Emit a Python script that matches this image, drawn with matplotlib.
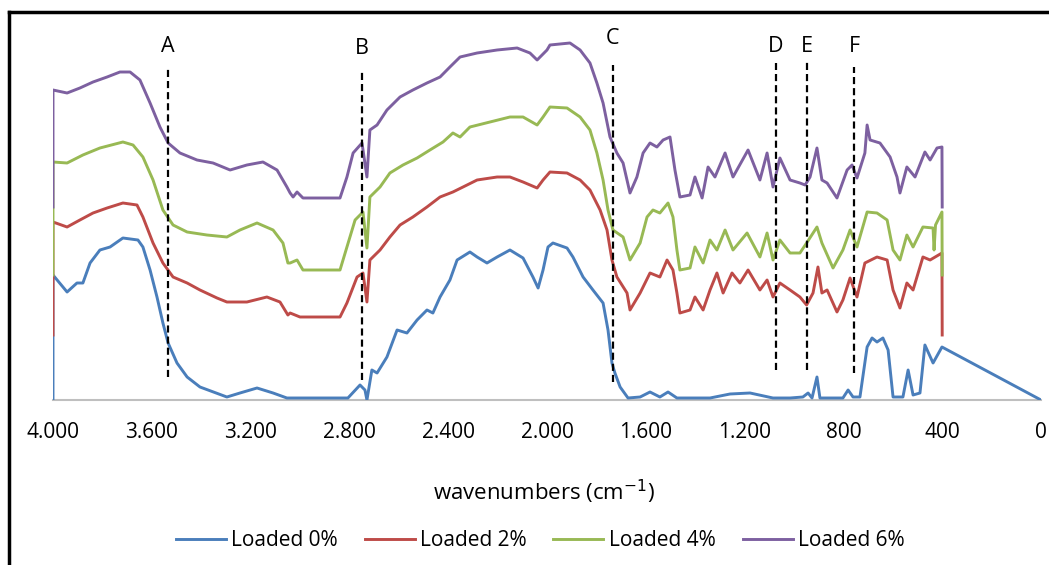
import matplotlib
matplotlib.use('Agg')
import matplotlib.pyplot as plt
from matplotlib.lines import Line2D

plt.rcParams['font.family'] = ['Open Sans', 'DejaVu Sans']

# FTIR spectra, wavenumber (cm-1) vs shifted transmittance (arbitrary units)
series_names = ['Loaded 0%', 'Loaded 2%', 'Loaded 4%', 'Loaded 6%']
colors = ['#4A7EBB', '#BE4B48', '#98B954', '#7D60A0']
baselines = [0, 65, 125, 193]
end_wn = [0, 400, 400, 400]

wn_0 = [4000, 3943, 3903, 3879, 3850, 3810, 3769, 3717, 3656, 3636, 3607, 3579, 3555, 3534,
        3498, 3457, 3405, 3296, 3243, 3174, 3109, 3053, 2806, 2757, 2737, 2729, 2709, 2688,
        2648, 2607, 2567, 2526, 2486, 2462, 2433, 2393, 2364, 2312, 2283, 2243, 2202, 2150,
        2097, 2057, 2036, 2016, 1996, 1976, 1919, 1895, 1854, 1814, 1773, 1753, 1737, 1725,
        1704, 1672, 1623, 1583, 1543, 1510, 1474, 1340, 1259, 1178, 1085, 1016, 964, 943,
        927, 907, 895, 802, 781, 761, 733, 704, 684, 664, 640, 619, 599, 559, 538, 518,
        490, 470, 437, 401]
val_0 = [125, 108, 117, 117, 137, 150, 153, 162, 160, 153, 130, 103, 77, 57,
         37, 23, 13, 3, 7, 12, 7, 2, 2, 15, 10, 0, 30, 27,
         43, 70, 67, 80, 90, 87, 103, 120, 140, 148, 143, 137, 143, 150,
         142, 123, 112, 130, 153, 157, 152, 143, 123, 110, 97, 70, 37, 27,
         13, 2, 3, 8, 3, 8, 2, 2, 6, 7, 2, 2, 3, 7,
         2, 23, 2, 2, 10, 3, 3, 53, 62, 58, 62, 50, 3, 3, 30, 5,
         7, 55, 37, 53]

wn_2 = [4000, 3943, 3891, 3838, 3781, 3717, 3660, 3636, 3595, 3555, 3514, 3457, 3405, 3336,
        3296, 3215, 3134, 3081, 3049, 3040, 3000, 2838, 2810, 2769, 2745, 2729, 2717, 2676,
        2636, 2595, 2543, 2486, 2433, 2381, 2340, 2283, 2202, 2150, 2097, 2040, 2016, 1988,
        1919, 1866, 1826, 1785, 1757, 1737, 1717, 1676, 1664, 1623, 1583, 1543, 1514, 1490,
        1474, 1462, 1421, 1401, 1368, 1340, 1312, 1287, 1251, 1219, 1186, 1138, 1109, 1085,
        1057, 1016, 976, 949, 923, 903, 887, 866, 826, 802, 773, 745, 713, 664, 623, 599,
        571, 543, 518, 478, 449, 401]
val_2 = [178, 173, 180, 187, 192, 197, 195, 183, 157, 137, 123, 117, 110, 102,
         98, 98, 103, 98, 85, 87, 83, 83, 97, 123, 127, 98, 140, 150,
         163, 175, 183, 193, 203, 208, 213, 220, 223, 223, 218, 212, 220, 228,
         227, 220, 210, 190, 170, 140, 123, 107, 90, 107, 127, 123, 140, 130,
         107, 87, 90, 103, 90, 110, 127, 107, 127, 117, 130, 110, 120, 103,
         117, 110, 103, 95, 107, 133, 107, 110, 88, 100, 122, 103, 137, 143, 140, 110,
         92, 117, 110, 143, 140, 147]

wn_4 = [4000, 3943, 3879, 3810, 3717, 3676, 3636, 3595, 3555, 3514, 3457, 3377, 3296, 3243,
        3174, 3109, 3069, 3049, 3040, 3012, 2988, 2838, 2810, 2777, 2745, 2729, 2717, 2676,
        2636, 2583, 2526, 2474, 2421, 2381, 2352, 2312, 2231, 2150, 2097, 2040, 2016, 1988,
        1919, 1866, 1826, 1798, 1773, 1753, 1733, 1692, 1664, 1623, 1595, 1571, 1543, 1510,
        1490, 1474, 1462, 1421, 1401, 1368, 1340, 1312, 1279, 1247, 1190, 1138, 1109, 1085,
        1057, 1016, 976, 949, 907, 887, 842, 802, 773, 745, 704, 664, 623, 599, 571, 543,
        518, 478, 437, 433, 427, 401]
val_4 = [238, 237, 245, 252, 258, 255, 243, 220, 190, 175, 168, 165, 163, 170,
         177, 170, 157, 137, 137, 140, 130, 130, 153, 180, 188, 152, 203, 213,
         227, 235, 242, 250, 258, 267, 263, 273, 278, 283, 283, 275, 283, 293,
         292, 283, 270, 247, 220, 190, 170, 163, 140, 157, 183, 190, 187, 197,
         183, 150, 130, 132, 153, 137, 160, 150, 170, 150, 167, 143, 167, 140,
         160, 147, 147, 157, 173, 157, 132, 150, 170, 153, 188, 187, 180, 150, 140, 165,
         153, 173, 172, 150, 175, 188]

wn_6 = [4000, 3943, 3891, 3838, 3781, 3729, 3688, 3648, 3607, 3567, 3534, 3486, 3417, 3352,
        3283, 3215, 3150, 3093, 3053, 3040, 3028, 3012, 2988, 2838, 2810, 2785, 2749, 2729,
        2717, 2688, 2648, 2595, 2543, 2486, 2433, 2393, 2352, 2283, 2202, 2121, 2069, 2040,
        2000, 1988, 1907, 1866, 1826, 1798, 1773, 1745, 1717, 1692, 1664, 1636, 1611, 1583,
        1555, 1530, 1502, 1482, 1462, 1421, 1401, 1372, 1348, 1320, 1279, 1247, 1186, 1138,
        1109, 1085, 1057, 1016, 976, 955, 935, 907, 887, 866, 826, 785, 765, 745, 713, 704,
        692, 652, 611, 583, 571, 543, 510, 470, 449, 421, 401]
val_6 = [310, 307, 312, 318, 323, 328, 328, 320, 297, 273, 257, 247, 240, 237,
         230, 235, 238, 230, 213, 207, 203, 208, 202, 202, 223, 247, 257, 223,
         270, 275, 290, 303, 310, 317, 323, 333, 343, 347, 350, 352, 347, 340,
         350, 355, 357, 350, 337, 317, 297, 263, 247, 237, 207, 223, 247, 257,
         253, 260, 263, 230, 203, 205, 223, 202, 233, 223, 247, 223, 250, 220,
         247, 213, 242, 220, 217, 215, 223, 252, 220, 217, 202, 230, 235, 222, 247, 275,
         260, 257, 243, 223, 207, 233, 223, 248, 240, 252, 253]

wn_data = [wn_0, wn_2, wn_4, wn_6]
val_data = [val_0, val_2, val_4, val_6]

# marked bands
band_labels = ['A', 'B', 'C', 'D', 'E', 'F']
band_wn = [3534, 2749, 1733, 1073, 947, 757]
band_top = [332, 330, 335, 337, 338, 333]
band_bottom = [23, 20, 18, 30, 30, 27]
band_label_y = [354, 352, 362, 354, 354, 354]

tick_wn = [4000, 3600, 3200, 2800, 2400, 2000, 1600, 1200, 800, 400, 0]
tick_labels = ['4.000', '3.600', '3.200', '2.800', '2.400', '2.000', '1.600', '1.200', '800', '400', '0']

fig = plt.figure(figsize=(10.49, 5.65), dpi=100)
ax = fig.add_axes([53 / 1049, 165 / 565, 988 / 1049, 370 / 565])

for name, c, base, endx, wn, val in zip(series_names, colors, baselines, end_wn, wn_data, val_data):
    x = [4000] + wn + [endx]
    y = [base] + val + [base]
    ax.plot(x, y, color=c, lw=2.1, label=name, solid_joinstyle='round')

for lab, w, t, b, ly in zip(band_labels, band_wn, band_top, band_bottom, band_label_y):
    ax.plot([w, w], [b, t], color='black', lw=1.6, ls=(0, (3.2, 1.8)), zorder=5)
    ax.text(w, ly, lab, ha='center', va='center', fontsize=15.5, clip_on=False)

ax.set_xlim(4000, 0)
ax.set_ylim(0, 370)
ax.set_xticks(tick_wn)
ax.set_xticklabels(tick_labels)
ax.set_yticks([])
ax.tick_params(axis='x', length=0, pad=16, labelsize=15)
for s in ['top', 'right', 'left']:
    ax.spines[s].set_visible(False)
ax.spines['bottom'].set_color('#BFBFBF')
ax.spines['bottom'].set_linewidth(1.5)
ax.spines['bottom'].set_zorder(0)

ax.set_xlabel('wavenumbers (cm$^{-1}$)', fontsize=16)
ax.xaxis.label.set_va('center')
ax.xaxis.set_label_coords(0.497, -0.249)

fig.legend(loc='center', bbox_to_anchor=(540 / 1049, 1 - 541 / 565), ncol=4, frameon=False,
           fontsize=15, handlelength=2.4, columnspacing=1.3, handletextpad=0.25)

# outer frame (left and top edges visible)
fig.add_artist(Line2D([9 / 1049, 9 / 1049], [0, 1 - 12 / 565], transform=fig.transFigure, color='black', lw=2.5))
fig.add_artist(Line2D([9 / 1049, 1], [1 - 12 / 565, 1 - 12 / 565], transform=fig.transFigure, color='black', lw=2.5))

fig.savefig('out.png', dpi=100)
